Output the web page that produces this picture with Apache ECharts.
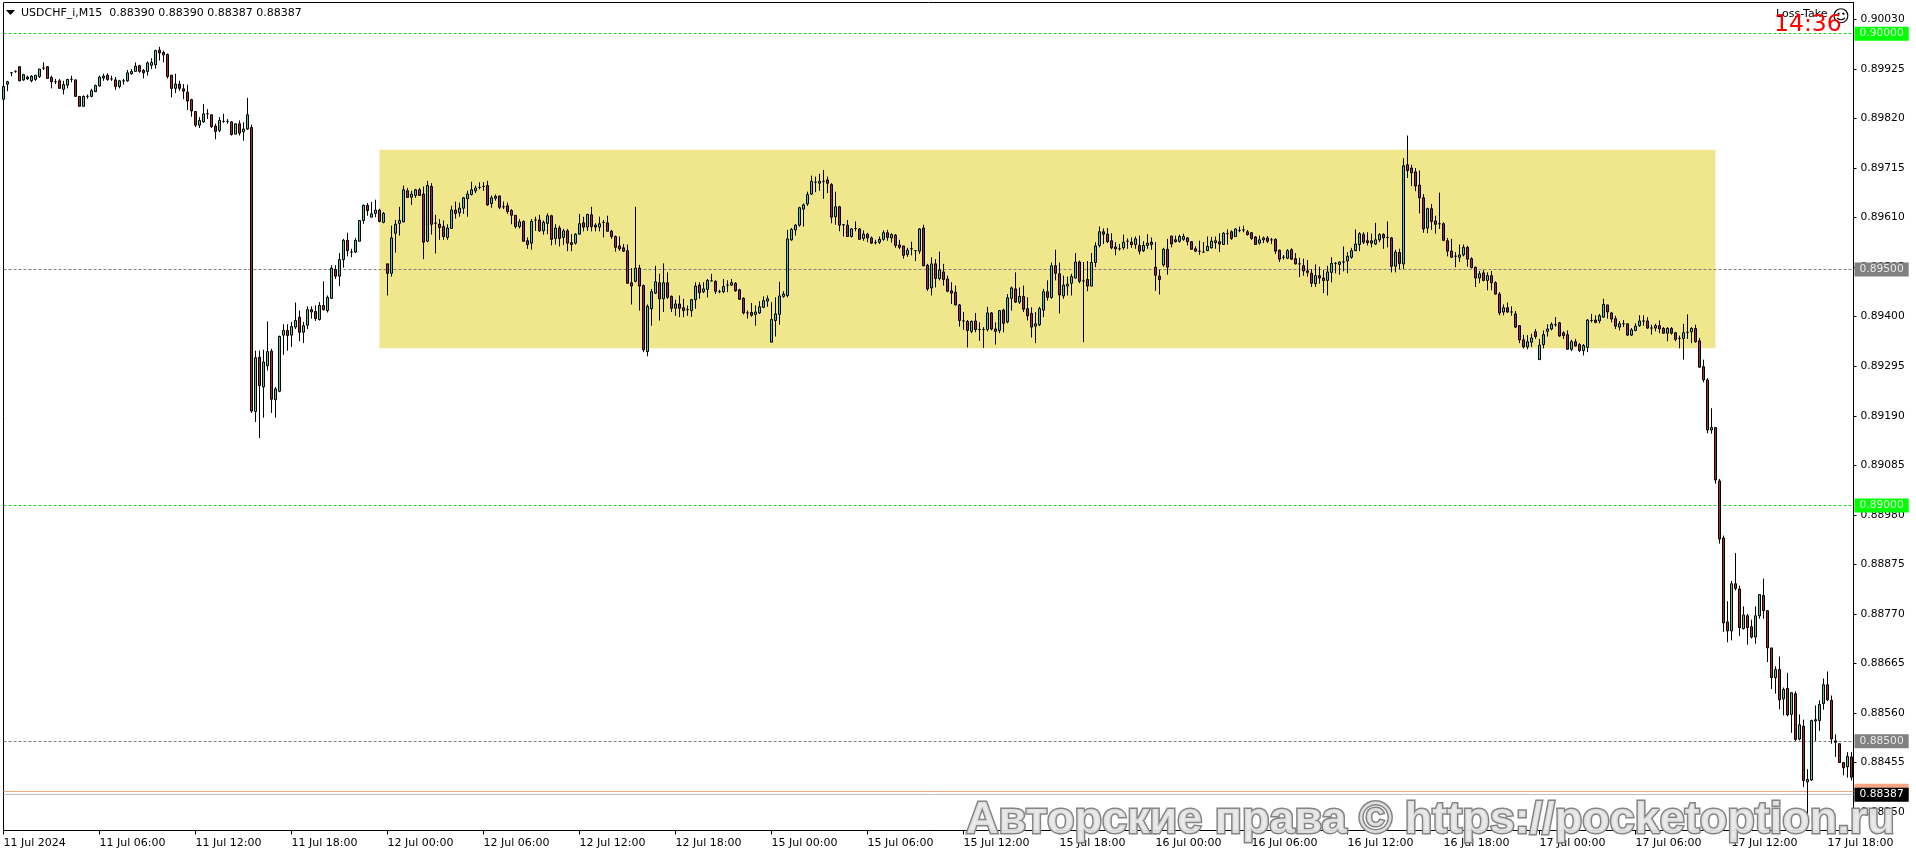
<!DOCTYPE html>
<html><head><meta charset="utf-8"><title>USDCHF_i,M15</title>
<script src="https://cdn.jsdelivr.net/npm/echarts@6/dist/echarts.min.js"></script>
<style>html,body{margin:0;padding:0;background:#fff}#c{width:1916px;height:854px}</style>
</head><body><div id="c"></div>
<script>
// prices in 1/100000 units
const opens = [
89861,89893,89917,89920,89930,89902,89908,89900,89903,89909,
89927,89930,89907,89898,89900,89882,89891,89903,89902,89867,
89846,89867,89867,89877,89889,89906,89912,89904,89902,89888,
89900,89900,89915,89920,89932,89922,89920,89933,89934,89965,
89960,89956,89912,89884,89893,89883,89876,89860,89835,89806,
89813,89830,89828,89804,89795,89814,89814,89813,89787,89809,
89792,89798,89801,89199,89314,89251,89296,89327,89224,89242,
89361,89371,89361,89378,89399,89367,89382,89415,89411,89394,
89424,89413,89439,89500,89486,89521,89562,89537,89537,89560,
89604,89636,89611,89619,89626,89600,89512,89492,89577,89598,
89601,89667,89653,89657,89669,89660,89560,89676,89598,89596,
89591,89568,89587,89626,89620,89630,89650,89659,89667,89674,
89676,89678,89640,89651,89656,89633,89635,89625,89615,89591,
89602,89561,89556,89605,89605,89582,89598,89614,89566,89588,
89568,89582,89557,89556,89575,89599,89590,89616,89594,89590,
89600,89599,89581,89570,89550,89546,89540,89472,89475,89503,
89466,89326,89417,89450,89472,89438,89472,89443,89418,89427,
89419,89415,89413,89436,89467,89453,89458,89476,89475,89453,
89453,89467,89467,89471,89457,89439,89408,89409,89405,89408,
89420,89433,89346,89392,89405,89443,89445,89563,89584,89594,
89628,89639,89660,89685,89683,89687,89690,89680,89612,89633,
89595,89594,89570,89587,89586,89566,89575,89567,89557,89558,
89564,89578,89567,89573,89552,89550,89532,89544,89540,89539,
89588,89509,89461,89512,89481,89495,89480,89455,89452,89425,
89391,89390,89369,89391,89373,89373,89373,89408,89374,89371,
89414,89389,89439,89459,89431,89443,89417,89407,89380,89383,
89414,89453,89441,89508,89491,89444,89465,89471,89482,89516,
89476,89479,89465,89515,89551,89580,89575,89561,89548,89544,
89546,89560,89558,89553,89551,89540,89551,89558,89505,89486,
89510,89543,89571,89563,89560,89564,89567,89559,89544,89539,
89537,89540,89546,89557,89559,89553,89576,89580,89570,89583,
89584,89580,89578,89569,89556,89563,89567,89563,89564,89541,
89526,89524,89542,89523,89512,89508,89497,89492,89470,89487,
89482,89477,89494,89513,89511,89516,89518,89526,89540,89553,
89574,89561,89561,89554,89563,89574,89568,89567,89507,89536,
89512,89722,89715,89707,89679,89652,89588,89629,89603,89597,
89597,89561,89539,89528,89526,89531,89547,89523,89505,89482,
89493,89477,89487,89472,89448,89410,89419,89410,89406,89381,
89351,89336,89346,89368,89309,89341,89369,89374,89383,89387,
89366,89362,89331,89347,89341,89328,89335,89392,89393,89391,
89399,89425,89408,89396,89378,89385,89385,89361,89371,89381,
89391,89391,89376,89376,89381,89375,89365,89375,89366,89354,
89354,89367,89368,89375,89349,89294,89266,89160,89165,89052,
88931,88753,88734,88834,88823,88739,88766,88743,88721,88766,
88809,88777,88698,88635,88652,88590,88612,88557,88601,88505,
88532,88414,88418,88543,88544,88580,88620,88587,88501,88495,
88455,88446,88467];
const closes = [
89888,89898,89917,89920,89900,89913,89904,89910,89912,89925,
89927,89905,89898,89898,89884,89892,89903,89903,89867,89846,
89867,89867,89879,89890,89908,89910,89903,89904,89888,89900,
89900,89917,89920,89931,89920,89917,89938,89939,89964,89959,
89955,89909,89884,89893,89884,89878,89857,89836,89806,89816,
89830,89830,89803,89793,89816,89814,89814,89786,89809,89789,
89798,89828,89200,89313,89254,89304,89326,89225,89247,89358,
89371,89360,89379,89392,89367,89381,89415,89410,89396,89424,
89415,89441,89503,89486,89521,89562,89540,89537,89562,89604,
89636,89625,89618,89626,89602,89619,89492,89567,89596,89604,
89669,89653,89660,89669,89657,89558,89678,89596,89598,89589,
89570,89588,89626,89619,89630,89652,89660,89669,89673,89674,
89676,89637,89652,89655,89632,89633,89623,89615,89591,89601,
89560,89553,89602,89605,89582,89600,89614,89564,89588,89566,
89582,89556,89553,89575,89597,89590,89617,89591,89590,89597,
89600,89581,89570,89547,89544,89539,89471,89465,89503,89465,
89330,89422,89453,89474,89438,89472,89441,89418,89427,89418,
89413,89415,89436,89465,89451,89459,89477,89476,89454,89453,
89464,89467,89472,89455,89437,89408,89408,89403,89410,89421,
89434,89438,89394,89406,89444,89448,89565,89585,89594,89631,
89637,89659,89687,89685,89687,89687,89683,89611,89633,89594,
89595,89570,89586,89587,89564,89575,89567,89556,89557,89564,
89578,89568,89574,89551,89547,89530,89541,89544,89540,89586,
89508,89459,89512,89481,89499,89479,89454,89450,89425,89392,
89391,89371,89390,89373,89373,89373,89408,89374,89369,89413,
89386,89440,89461,89431,89443,89416,89402,89378,89385,89417,
89453,89441,89508,89492,89446,89467,89469,89485,89516,89475,
89476,89465,89515,89550,89580,89575,89559,89546,89544,89544,
89558,89560,89553,89565,89539,89551,89556,89553,89488,89479,
89543,89505,89554,89559,89570,89570,89559,89543,89539,89539,
89537,89549,89560,89561,89554,89577,89576,89566,89586,89583,
89584,89574,89566,89553,89563,89567,89560,89563,89539,89522,
89526,89540,89522,89512,89512,89497,89494,89471,89487,89482,
89477,89495,89513,89513,89516,89516,89528,89540,89554,89576,
89558,89557,89556,89563,89574,89567,89568,89507,89537,89513,
89720,89710,89705,89677,89652,89586,89629,89602,89596,89597,
89562,89539,89526,89528,89531,89547,89522,89504,89482,89491,
89477,89487,89472,89448,89408,89419,89410,89410,89378,89351,
89336,89347,89355,89358,89340,89362,89374,89384,89383,89359,
89360,89331,89347,89338,89328,89339,89393,89392,89388,89402,
89426,89410,89395,89380,89385,89385,89361,89372,89380,89391,
89391,89376,89376,89381,89374,89365,89375,89365,89352,89354,
89366,89367,89375,89347,89293,89266,89160,89165,89054,88929,
88751,88734,88834,88824,88741,88768,88741,88721,88766,88811,
88777,88698,88635,88652,88588,88610,88556,88603,88504,88535,
88417,88419,88544,88546,88578,88620,88588,88505,88498,88455,
88444,88468,88424];
const lows = [
89861,89878,89910,89917,89899,89900,89902,89897,89900,89906,
89923,89905,89884,89893,89884,89871,89884,89897,89867,89846,
89846,89862,89865,89876,89888,89900,89900,89900,89881,89884,
89892,89898,89913,89920,89917,89905,89911,89925,89926,89943,
89939,89905,89865,89874,89879,89861,89838,89824,89802,89800,
89811,89819,89800,89776,89791,89811,89809,89784,89787,89784,
89773,89796,89196,89177,89143,89186,89286,89196,89186,89240,
89319,89328,89336,89374,89348,89344,89374,89396,89391,89392,
89413,89409,89438,89480,89465,89504,89528,89526,89535,89560,
89597,89614,89611,89611,89600,89598,89445,89485,89536,89572,
89600,89652,89637,89652,89657,89522,89558,89574,89534,89563,
89563,89563,89586,89608,89612,89618,89612,89657,89662,89670,
89667,89635,89631,89646,89628,89628,89618,89596,89587,89587,
89560,89544,89542,89582,89580,89574,89575,89551,89553,89549,
89552,89539,89539,89553,89574,89581,89582,89581,89581,89581,
89568,89581,89565,89538,89540,89537,89470,89426,89473,89413,
89325,89316,89381,89448,89392,89410,89438,89410,89402,89399,
89399,89402,89400,89417,89438,89450,89441,89475,89448,89450,
89450,89452,89465,89453,89436,89405,89396,89400,89381,89406,
89418,89421,89346,89358,89383,89440,89441,89561,89572,89591,
89591,89635,89658,89664,89667,89650,89662,89598,89595,89581,
89570,89569,89568,89581,89563,89561,89558,89554,89553,89554,
89561,89561,89557,89546,89543,89523,89527,89530,89518,89533,
89507,89455,89445,89462,89477,89466,89452,89427,89424,89379,
89372,89335,89365,89367,89349,89334,89369,89371,89341,89365,
89367,89386,89413,89429,89427,89410,89392,89356,89344,89380,
89399,89434,89438,89477,89407,89438,89445,89445,89481,89471,
89346,89454,89464,89505,89547,89554,89556,89543,89530,89540,
89542,89544,89546,89544,89532,89537,89544,89542,89455,89447,
89506,89489,89547,89557,89557,89561,89551,89542,89537,89531,
89536,89539,89545,89544,89537,89552,89553,89563,89569,89579,
89579,89572,89563,89553,89553,89556,89556,89554,89533,89516,
89521,89522,89521,89511,89484,89487,89485,89463,89463,89470,
89450,89445,89473,89492,89489,89496,89492,89523,89539,89539,
89554,89551,89547,89552,89558,89544,89547,89494,89494,89501,
89501,89694,89677,89666,89619,89578,89577,89584,89576,89586,
89560,89528,89525,89505,89516,89528,89506,89502,89463,89471,
89475,89456,89456,89447,89403,89403,89408,89402,89376,89344,
89333,89331,89336,89353,89309,89333,89358,89371,89379,89358,
89353,89331,89327,89337,89325,89318,89325,89388,89386,89386,
89398,89396,89388,89374,89371,89378,89359,89359,89369,89379,
89381,89374,89362,89369,89365,89364,89348,89362,89348,89333,
89309,89353,89344,89345,89292,89261,89153,89152,89046,88919,
88732,88710,88714,88820,88723,88737,88705,88718,88707,88760,
88760,88668,88611,88601,88568,88555,88553,88518,88501,88502,
88403,88316,88416,88501,88522,88567,88585,88495,88467,88454,
88428,88423,88417];
const highs = [
89900,89900,89918,89922,89930,89915,89911,89912,89912,89925,
89939,89930,89911,89904,89904,89900,89904,89911,89902,89867,
89869,89871,89883,89892,89911,89915,89916,89911,89908,89902,
89904,89923,89925,89939,89934,89925,89941,89948,89966,89972,
89964,89958,89912,89915,89900,89893,89892,89862,89835,89823,
89851,89840,89828,89809,89823,89830,89819,89814,89809,89816,
89812,89864,89807,89328,89328,89330,89390,89332,89251,89360,
89384,89384,89389,89430,89413,89389,89422,89422,89424,89431,
89475,89445,89509,89509,89535,89565,89578,89544,89567,89605,
89638,89641,89643,89648,89629,89622,89512,89593,89605,89633,
89678,89673,89667,89671,89673,89676,89688,89683,89616,89607,
89604,89596,89635,89644,89642,89654,89667,89686,89678,89685,
89685,89688,89657,89659,89656,89644,89642,89628,89615,89607,
89604,89568,89607,89612,89616,89604,89619,89616,89596,89593,
89586,89586,89575,89577,89618,89612,89618,89633,89598,89612,
89605,89614,89584,89572,89570,89554,89553,89503,89633,89510,
89468,89426,89459,89508,89491,89513,89494,89445,89436,89445,
89438,89424,89438,89473,89473,89473,89480,89491,89477,89457,
89480,89477,89480,89473,89459,89441,89413,89429,89424,89433,
89443,89445,89431,89441,89474,89454,89584,89588,89596,89633,
89640,89665,89699,89697,89703,89711,89697,89683,89665,89635,
89596,89605,89588,89602,89588,89583,89578,89570,89563,89570,
89583,89584,89577,89575,89563,89550,89546,89559,89541,89588,
89595,89512,89526,89522,89538,89512,89487,89473,89466,89427,
89410,89393,89392,89408,89388,89378,89421,89410,89388,89414,
89417,89448,89464,89494,89462,89466,89441,89420,89410,89421,
89459,89477,89515,89542,89515,89487,89485,89491,89535,89519,
89516,89518,89535,89558,89591,89587,89588,89577,89558,89554,
89574,89566,89568,89570,89572,89560,89575,89568,89558,89499,
89546,89565,89571,89572,89574,89576,89569,89560,89549,89561,
89558,89570,89569,89570,89577,89579,89585,89583,89588,89591,
89593,89584,89579,89571,89572,89570,89571,89567,89566,89542,
89531,89543,89545,89535,89525,89523,89520,89501,89511,89506,
89499,89508,89526,89516,89517,89549,89537,89546,89585,89579,
89579,89579,89576,89599,89577,89577,89602,89569,89542,89544,
89736,89784,89722,89715,89710,89660,89631,89639,89614,89663,
89600,89567,89565,89537,89553,89553,89550,89526,89506,89497,
89499,89494,89497,89475,89452,89426,89430,89422,89412,89382,
89362,89361,89364,89374,89353,89371,89384,89388,89399,89389,
89369,89371,89351,89353,89344,89342,89395,89406,89403,89406,
89438,89425,89410,89402,89391,89393,89385,89376,89386,89403,
89403,89399,89383,89385,89392,89378,89378,89378,89367,89360,
89385,89405,89378,89383,89355,89309,89270,89206,89165,89056,
88936,88797,88840,88899,88830,88786,88770,88758,88786,88811,
88845,88778,88698,88659,88680,88614,88645,88604,88606,88557,
88546,88441,88546,88576,88587,88633,88648,88597,88515,88495,
88456,88477,88477];

const yTicks = [0.90030,0.89925,0.89820,0.89715,0.89610,0.89505,0.89400,0.89295,0.89190,0.89085,0.88980,0.88875,0.88770,0.88665,0.88560,0.88455,0.88350];
const xTicks = [0,24,48,72,96,120,144,168,192,216,240,264,288,312,336,360,384,408,432,456];
const xLabels = ['11 Jul 2024','11 Jul 06:00','11 Jul 12:00','11 Jul 18:00','12 Jul 00:00','12 Jul 06:00','12 Jul 12:00','12 Jul 18:00','15 Jul 00:00','15 Jul 06:00','15 Jul 12:00','15 Jul 18:00','16 Jul 00:00','16 Jul 06:00','16 Jul 12:00','16 Jul 18:00','17 Jul 00:00','17 Jul 06:00','17 Jul 12:00','17 Jul 18:00'];
const greenLevels = [0.90000,0.89000];
const greyLevels = [0.89500,0.88500];
const askPrice = 0.88395, lastPrice = 0.88387;
const zoneBars = [94,428], zonePrices = [0.89754,0.89333];
const headerText = 'USDCHF_i,M15  0.88390 0.88390 0.88387 0.88387';

const candles = opens.map((o,i)=>[i,o/1e5,closes[i]/1e5,lows[i]/1e5,highs[i]/1e5]);
const FONT = '"DejaVu Sans"';
const lvl = (v,line,bg,fg,dash)=>({yAxis:v,lineStyle:{color:line,width:1,type:dash,opacity:1},
  label:{show:true,position:'end',distance:1,formatter:()=>v.toFixed(5),backgroundColor:bg,color:fg,fontFamily:FONT,fontSize:10.7,padding:[2,5,1,5]}});

const chart = echarts.init(document.getElementById('c'),null,{renderer:'canvas'});
chart.setOption({
  animation:false,backgroundColor:'#fff',
  grid:{left:3.5,right:62.5,top:2.5,bottom:23.5,show:true,borderColor:'#000',borderWidth:1,backgroundColor:'transparent'},
  xAxis:{type:'value',min:0,max:462.5,splitLine:{show:false},
    axisLine:{show:true,lineStyle:{color:'#000',width:1}},
    axisTick:{show:true,length:4,lineStyle:{color:'#000'},customValues:xTicks},
    axisLabel:{customValues:xTicks,align:'left',margin:7,color:'#000',fontFamily:FONT,fontSize:11,
      formatter:v=>xLabels[xTicks.indexOf(v)]||''}},
  yAxis:{type:'value',position:'right',min:0.88311,max:0.90066,scale:true,splitLine:{show:false},
    axisLine:{show:true,onZero:false,lineStyle:{color:'#000',width:1}},
    axisTick:{show:true,length:3,lineStyle:{color:'#000'},customValues:yTicks},
    axisLabel:{customValues:yTicks,margin:7,color:'#000',fontFamily:FONT,fontSize:10.7,
      formatter:v=>v.toFixed(5)}},
  series:[{
    type:'candlestick',z:5,large:false,progressive:0,barWidth:2,clip:true,silent:true,
    encode:{x:0,y:[1,2,3,4]},data:candles,
    itemStyle:{color:'#58c48a',color0:'#a52a2a',borderColor:'#000',borderColor0:'#000',borderColorDoji:'#000',borderWidth:1},
    markArea:{silent:true,z:1,itemStyle:{color:'#f0e68c',opacity:1},
      data:[[{xAxis:zoneBars[0],yAxis:zonePrices[0]},{xAxis:zoneBars[1],yAxis:zonePrices[1]}]]},
    markLine:{silent:true,z:3,symbol:'none',animation:false,precision:5,
      data:[
        ...greenLevels.map(v=>lvl(v,'#22d022','#00ff00','#e6ffe0',[3,2])),
        ...greyLevels.map(v=>lvl(v,'#808080','#808080','#e8e8e8',[3,2])),
        lvl(askPrice,'#eea87e','#f4a582','#f4a582','solid'),
        lvl(lastPrice,'#c0c0c0','#000','#fff','solid')
      ]}
  }],
  graphic:[
    {type:'polygon',z:50,shape:{points:[[6,10],[15,10],[10.5,15]]},style:{fill:'#000'}},
    {type:'text',z:50,style:{x:21,y:13,text:headerText,fill:'#000',font:'11px '+FONT,textVerticalAlign:'middle'}},
    {type:'text',z:50,style:{x:1776,y:14,text:'Loss-Take',fill:'#000',font:'11px '+FONT,textVerticalAlign:'middle'}},
    {type:'text',z:50,style:{x:1841,y:18,text:'☺',fill:'#000',font:'17px '+FONT,textAlign:'center',textVerticalAlign:'middle'}},
    {type:'text',z:51,style:{x:1774,y:25,text:'14:36',fill:'#f00',font:'23.5px '+FONT,textVerticalAlign:'middle'}},
    {type:'text',z:100,style:{x:966,y:821,text:'Авторские права © https://pocketoption.ru',fill:'rgba(232,232,232,0.9)',stroke:'#858585',lineWidth:3,font:'bold 45px "Liberation Sans"',textVerticalAlign:'middle'}}
  ]
});
</script></body></html>
